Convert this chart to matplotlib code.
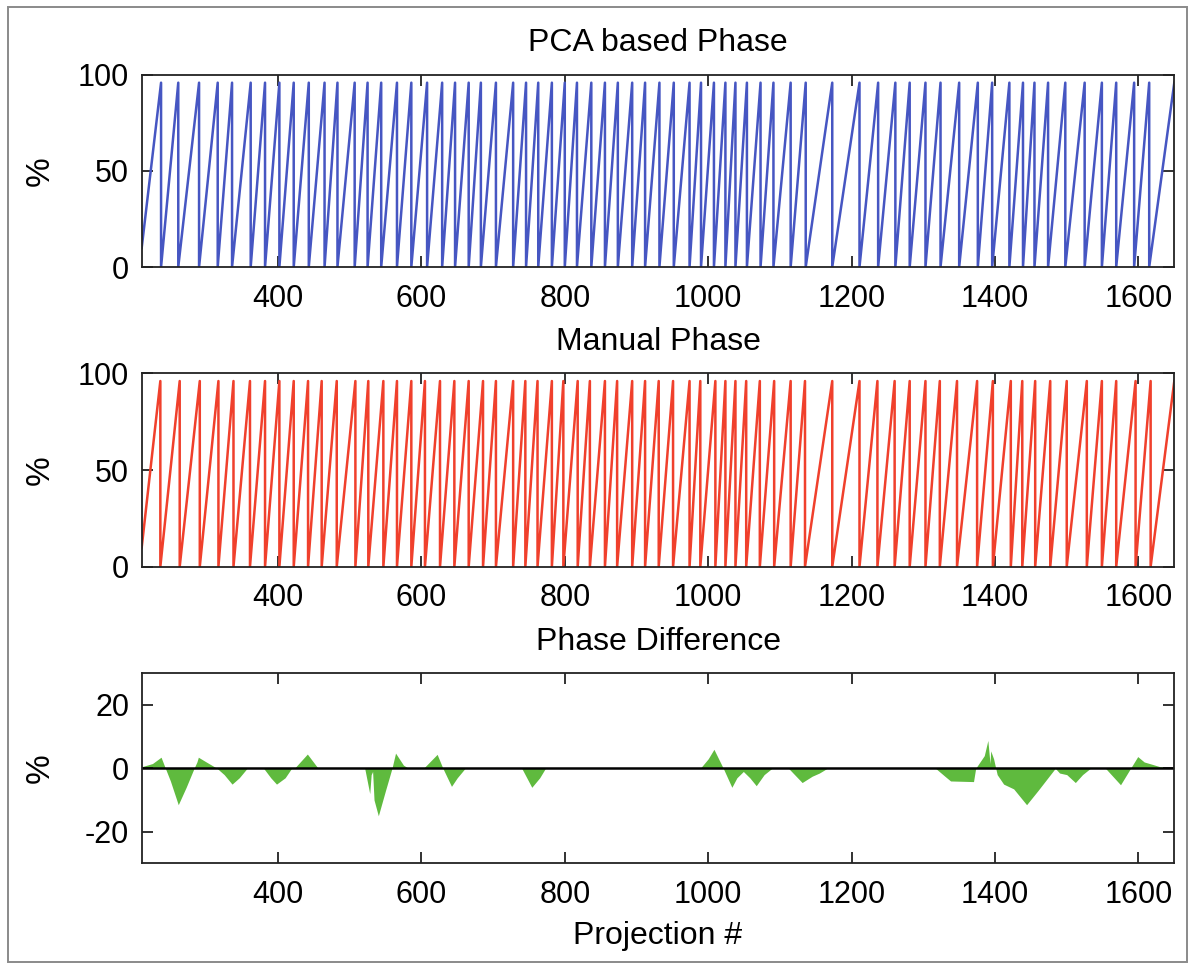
import matplotlib
matplotlib.use("Agg")
import matplotlib.pyplot as plt
from matplotlib.patches import Rectangle

plt.rcParams['font.family'] = ['Liberation Sans', 'DejaVu Sans']
plt.rcParams['axes.unicode_minus'] = False

# Projection range shown on every panel
x_min, x_max = 210, 1650

# PCA based phase: projection numbers where the phase wraps back to 0
pca_resets = [237, 261, 290, 316, 336, 362, 382, 402, 422, 443, 465, 483, 507,
              525, 544, 566, 586, 608, 629, 647, 666, 683, 704, 728, 746, 763,
              782, 800, 817, 837, 856, 874, 894, 912, 932, 952, 974, 990, 1008,
              1024, 1038, 1054, 1073, 1091, 1115, 1136, 1173, 1211, 1237, 1261,
              1281, 1303, 1324, 1350, 1376, 1396, 1420, 1439, 1455, 1474, 1498,
              1525, 1549, 1569, 1594, 1615]
pca_first_phase = 10
pca_peak = 96

# Manual phase: projection numbers where the phase wraps back to 0
manual_resets = [236, 263, 291, 317, 338, 361, 382, 402, 422, 442, 461, 482, 508,
                 526, 547, 566, 586, 605, 626, 646, 666, 686, 704, 728, 745, 762,
                 782, 798, 818, 835, 856, 873, 894, 912, 931, 951, 974, 989, 1010,
                 1024, 1038, 1053, 1072, 1092, 1115, 1135, 1173, 1211, 1236, 1260,
                 1281, 1303, 1323, 1347, 1375, 1397, 1422, 1438, 1456, 1477, 1500,
                 1528, 1549, 1569, 1596, 1617]
manual_first_phase = 10
manual_peak = 96

# Phase difference (%)
diff_x = [210, 225, 237, 243, 250, 261, 272, 283, 287, 289, 300, 315, 325, 336,
          346, 357, 380, 390, 398, 410, 419, 423, 441, 456, 521, 528, 530, 532,
          534, 540, 550, 559, 564, 575, 582, 603, 622, 630, 642, 650, 661, 740,
          754, 765, 773, 989, 1000, 1008, 1021, 1033, 1040, 1049, 1058, 1067,
          1078, 1089, 1112, 1131, 1145, 1155, 1166, 1317, 1330, 1338, 1370, 1373,
          1385, 1390, 1393, 1394, 1398, 1401, 1403, 1412, 1426, 1444, 1460, 1484,
          1490, 1500, 1512, 1522, 1533, 1554, 1575, 1589, 1599, 1608, 1620, 1630,
          1650]
diff_y = [0.5, 1.5, 3.5, 0, -4, -11.5, -6, 0, 2, 3.5, 2, 0, -2, -5,
          -3, 0, 0, -3, -5, -3, 0, 0, 4.5, 0, 0, -8, -2, -1,
          -10, -15, -7, 0, 4.8, 1, 0, 0, 4.4, 0, -5.7, -3, 0, 0,
          -6, -3, 0, 0, 3, 6, 0, -6, -3, -1, -3, -5.5,
          -2, 0, 0, -4.5, -2.5, -1.5, 0, 0, -2.5, -4, -4.2, 0,
          4, 8.8, 1.5, 5.5, 3, 0, -2, -5, -6.5, -11.5, -7, 0,
          -1.5, -2, -4.5, -2, 0, 0, -5.2, 0, 3.7, 2, 1.2, 0.5,
          0.3]


def sawtooth_vertices(resets, first_phase, peak):
    """Vertices of a wrapped phase trace: ramp up to each reset, then drop to 0."""
    xs, ys = [x_min], [first_phase]
    for r in resets:
        xs += [r, r]
        ys += [peak, 0]
    xs.append(x_max)
    ys.append(peak)
    return xs, ys


W, H = 1195, 969
fig = plt.figure(figsize=(W / 100, H / 100), dpi=100)
fig.patch.set_facecolor('white')

# Light grey frame around the whole figure
fig.patches.append(Rectangle((8 / W, 1 - 962 / H), (1187 - 8) / W, (962 - 7) / H,
                             transform=fig.transFigure, fill=False,
                             edgecolor='#8a8a8a', linewidth=1.4))

left = 141.7 / W
width = (1174.3 - 141.7) / W


def panel(top_px, bottom_px):
    return fig.add_axes([left, 1 - bottom_px / H, width, (bottom_px - top_px) / H])


ax1 = panel(75, 267)
ax2 = panel(373.3, 566.7)
ax3 = panel(673.3, 863.3)

tick_fs = 22
title_fs = 23

px, py = sawtooth_vertices(pca_resets, pca_first_phase, pca_peak)
ax1.plot(px, py, color='#4656c2', linewidth=1.8)
ax1.set_ylim(0, 100)
ax1.set_yticks([0, 50, 100])
ax1.set_title('PCA based Phase', fontsize=title_fs, pad=17)

mx, my = sawtooth_vertices(manual_resets, manual_first_phase, manual_peak)
ax2.plot(mx, my, color='#f0402c', linewidth=1.8)
ax2.set_ylim(0, 100)
ax2.set_yticks([0, 50, 100])
ax2.set_title('Manual Phase', fontsize=title_fs, pad=17)

ax3.fill_between(diff_x, diff_y, 0, color='#5fba3e', linewidth=0)
ax3.axhline(0, color='black', linewidth=1.8)
ax3.set_ylim(-30, 30)
ax3.set_yticks([-20, 0, 20])
ax3.set_title('Phase Difference', fontsize=title_fs, pad=17)
ax3.set_xlabel('Projection #', fontsize=title_fs, labelpad=8)

for ax in (ax1, ax2, ax3):
    ax.set_xlim(x_min, x_max)
    ax.set_xticks([400, 600, 800, 1000, 1200, 1400, 1600])
    ax.tick_params(direction='in', top=True, right=True, length=8, width=1.3,
                   labelsize=tick_fs, color='#222222')
    ax.tick_params(axis='x', pad=12)
    ax.tick_params(axis='y', pad=9)
    for s in ax.spines.values():
        s.set_linewidth(1.3)
        s.set_color('#222222')
    ax.set_ylabel('%', fontsize=24)
    ax.yaxis.set_label_coords(-0.083, 0.5)

fig.savefig('out.png', dpi=100, facecolor='white')
